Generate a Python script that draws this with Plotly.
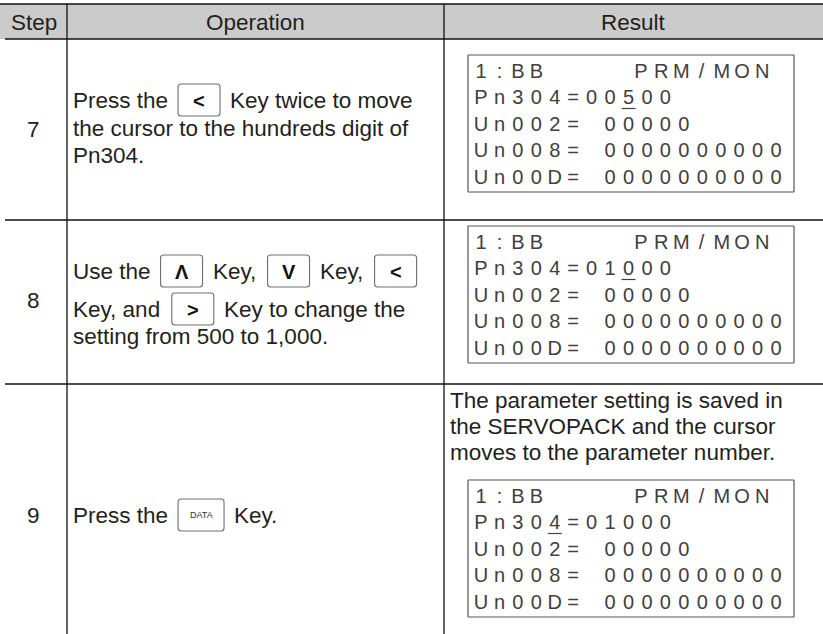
import plotly.graph_objects as go

W, H = 823, 634

# ---------------- data ----------------
headers = ["Step", "Operation", "Result"]
steps = ["7", "8", "9"]

# operation lines: ("t", text) = plain text, ("k", glyph) = key button
op7_lines = [
    [("t", "Press the"), ("k", "<"), ("t", "Key twice to move")],
    [("t", "the cursor to the hundreds digit of")],
    [("t", "Pn304.")],
]
op8_lines = [
    [("t", "Use the"), ("k", "Λ"), ("t", "Key,"), ("k", "V"), ("t", "Key,"), ("k", "<")],
    [("t", "Key, and"), ("k", ">"), ("t", "Key to change the")],
    [("t", "setting from 500 to 1,000.")],
]
op9_lines = [
    [("t", "Press the"), ("k", "DATA"), ("t", "Key.")],
]
result9_text = [
    "The parameter setting is saved in",
    "the SERVOPACK and the cursor",
    "moves to the parameter number.",
]

lcd_title_left = "1:BB"
lcd_title_right = "PRM/MON"
lcd7 = ["Pn304=00500", "Un002= 00000", "Un008= 0000000000", "Un00D= 0000000000"]
lcd8 = ["Pn304=01000", "Un002= 00000", "Un008= 0000000000", "Un00D= 0000000000"]
lcd9 = ["Pn304=01000", "Un002= 00000", "Un008= 0000000000", "Un00D= 0000000000"]
cursor7 = 8
cursor8 = 8
cursor9 = 4

# ---------------- layout / style ----------------
FONT = "Liberation Sans, Arial, Helvetica, sans-serif"
TXT = "#231f20"
FS = 22.5
col_x = [0, 67, 444, 823]
head_top, head_bot = 4, 39
row_lines = [220, 384]

# Arial advance widths (per 1000 em)
AW = {" ": 278, ",": 278, ".": 278, "A": 667, "K": 667, "P": 667, "U": 722,
      "T": 611, "S": 667, "E": 667, "R": 722, "V": 667, "O": 778, "C": 722,
      "a": 556, "b": 556, "c": 500, "d": 556, "e": 556, "f": 278, "g": 556, "h": 556,
      "i": 222, "m": 833, "n": 556, "o": 556, "p": 556, "r": 333, "s": 500,
      "t": 278, "u": 556, "v": 500, "w": 722, "y": 500}


def tw(s, fs=FS):
    return sum(AW.get(c, 556) for c in s) * fs / 1000.0


fig = go.Figure()
shapes = []
annos = []

# header background
shapes.append(dict(type="rect", x0=0, x1=W, y0=head_top, y1=head_bot,
                   fillcolor="#cbcbcb", line=dict(width=0), layer="below"))
# horizontal rules
shapes.append(dict(type="line", x0=0, x1=W, y0=head_top, y1=head_top,
                   line=dict(color="#111", width=1.5)))
shapes.append(dict(type="line", x0=5, x1=W, y0=head_bot, y1=head_bot,
                   line=dict(color="#111", width=1.3)))
for yy in row_lines:
    shapes.append(dict(type="line", x0=5, x1=W, y0=yy, y1=yy,
                       line=dict(color="#111", width=1.3)))
# vertical rules
for xx in col_x[1:3]:
    shapes.append(dict(type="line", x0=xx, x1=xx, y0=head_top, y1=H,
                       line=dict(color="#111", width=1.3)))


def text(x, y, s, size=FS, anchor="left", color=TXT, bold=False):
    annos.append(dict(x=x, y=y, xref="x", yref="y", text=("<b>%s</b>" % s) if bold else s,
                      showarrow=False, xanchor=anchor, yanchor="middle",
                      font=dict(family=FONT, size=size, color=color),
                      borderpad=0, borderwidth=0))


def rrect(x0, y0, x1, y1, r=3, color="#6f6f6f", width=1.1):
    p = (f"M {x0+r},{y0} L {x1-r},{y0} Q {x1},{y0} {x1},{y0+r} "
         f"L {x1},{y1-r} Q {x1},{y1} {x1-r},{y1} L {x0+r},{y1} "
         f"Q {x0},{y1} {x0},{y1-r} L {x0},{y0+r} Q {x0},{y0} {x0+r},{y0} Z")
    shapes.append(dict(type="path", path=p, line=dict(color=color, width=width),
                       fillcolor="rgba(0,0,0,0)", layer="below"))


# headers
for i, h in enumerate(headers):
    text((col_x[i] + col_x[i + 1]) / 2, (head_top + head_bot) / 2 + 0.5, h, anchor="center")

# step numbers
step_y = [129, 300, 515]
for s, yy in zip(steps, step_y):
    text(33.5, yy, s, anchor="center")


def flow(lines, ys):
    for segs, yy in zip(lines, ys):
        x = 73
        for kind, s in segs:
            if kind == "t":
                text(x, yy, s)
                x += tw(s)
            else:
                kw = 46 if s == "DATA" else 42
                x += 10
                rrect(x, yy - 16, x + kw, yy + 16)
                if s == "DATA":
                    text(x + kw / 2, yy, s, size=9, anchor="center", color="#333")
                else:
                    text(x + kw / 2, yy + 0.5, s, size=20, anchor="center", color="#111", bold=True)
                x += kw + 10


flow(op7_lines, [100, 128, 155])
flow(op8_lines, [271, 309, 336])
flow(op9_lines, [515])

for s, yy in zip(result9_text, [400, 426, 452]):
    text(450, yy, s)

# LCD panels
CELL = 18.44
LCD_X0 = 481
ROWH = 26.5


def lcd(top, rows, cur):
    rrect(468, top, 794, top + 137, r=0.5, color="#555", width=1.2)
    xs, ys, ts = [], [], []
    y0 = top + 17.5
    for i, c in enumerate(lcd_title_left):
        xs.append(LCD_X0 + CELL * i); ys.append(y0); ts.append(c)
    for i, c in enumerate(lcd_title_right):
        xs.append(641 + 20.2 * i); ys.append(y0); ts.append(c)
    for r, row in enumerate(rows):
        yy = y0 + ROWH * (r + 1)
        for i, c in enumerate(row):
            if c != " ":
                xs.append(LCD_X0 + CELL * i); ys.append(yy); ts.append(c)
    fig.add_trace(go.Scatter(x=xs, y=ys, text=ts, mode="text", hoverinfo="skip",
                             textposition="middle center", cliponaxis=False,
                             textfont=dict(family=FONT, size=20, color="#404040"),
                             showlegend=False))
    cx = LCD_X0 + CELL * cur
    uy = y0 + ROWH + 9.5
    shapes.append(dict(type="line", x0=cx - 7, x1=cx + 7, y0=uy, y1=uy,
                       line=dict(color="#404040", width=1.2)))


lcd(55, lcd7, cursor7)
lcd(226, lcd8, cursor8)
lcd(480, lcd9, cursor9)

fig.update_layout(
    width=W, height=H,
    margin=dict(l=0, r=0, t=0, b=0),
    paper_bgcolor="white", plot_bgcolor="white",
    xaxis=dict(range=[0, W], visible=False, showgrid=False, zeroline=False, fixedrange=True),
    yaxis=dict(range=[H, 0], visible=False, showgrid=False, zeroline=False, fixedrange=True),
    shapes=shapes, annotations=annos, showlegend=False,
)
fig.write_html("out.html", config=dict(displayModeBar=False),
               post_script="document.body.style.margin='0';document.body.style.padding='0';")
